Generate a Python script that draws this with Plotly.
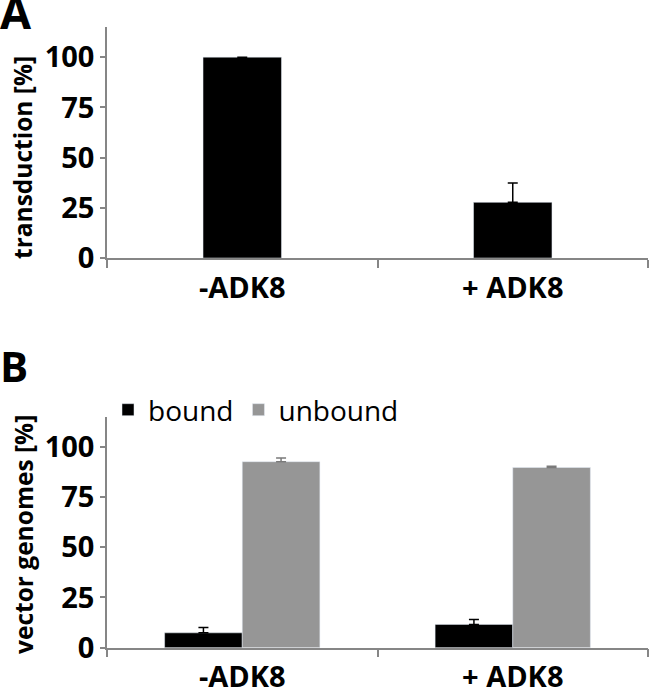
import plotly.graph_objects as go

categories = ["-ADK8", "+ ADK8"]
transduction = [100, 27.7]
transduction_err = [None, 9.6]
bound = [7.4, 11.6]
bound_err = [2.7, 2.5]
unbound = [92.6, 89.7]
unbound_err = [1.8, 0.6]
ytick_vals = [0, 25, 50, 75, 100]

FONT = "Open Sans"
AXIS_COLOR = "#868686"
H = 694

def py(pix):
    return (H - pix) / H

fig = go.Figure()

fig.add_trace(go.Bar(
    x=categories, y=transduction, marker_color="#000000", showlegend=False,
    error_y=dict(type="data", array=transduction_err, symmetric=False,
                 arrayminus=[0, 0], color="#000000", thickness=1.5, width=5),
    xaxis="x", yaxis="y", width=0.29,
))
fig.add_trace(go.Bar(
    x=categories, y=bound, name="bound", marker_color="#000000",
    error_y=dict(type="data", array=bound_err, symmetric=False,
                 arrayminus=[0, 0], color="#000000", thickness=1.5, width=5),
    xaxis="x2", yaxis="y2",
))
fig.add_trace(go.Bar(
    x=categories, y=unbound, name="unbound", marker_color="#969696",
    error_y=dict(type="data", array=unbound_err, symmetric=False,
                 arrayminus=[0, 0], color="#7a7a7a", thickness=1.5, width=5),
    xaxis="x2", yaxis="y2",
))

xcommon = dict(type="category", tickson="boundaries", ticks="outside", ticklen=8,
               tickcolor=AXIS_COLOR, tickwidth=1.5, showline=True, linecolor=AXIS_COLOR,
               linewidth=1.5, showgrid=False, zeroline=False, automargin=False,
               tickfont=dict(family=FONT, size=29, color="#000000", weight="bold"),
               domain=[107/650, 648/650], ticklabelstandoff=3)
ycommon = dict(range=[0, 115], tickvals=ytick_vals, ticks="outside", ticklen=5,
               tickcolor=AXIS_COLOR, tickwidth=1.5, showline=True, linecolor=AXIS_COLOR,
               linewidth=1.5, showgrid=False, zeroline=False, automargin=False,
               tickfont=dict(family=FONT, size=29, color="#000000", weight="bold"))

fig.update_layout(
    width=650, height=694,
    margin=dict(l=0, r=0, t=0, b=0, autoexpand=False),
    paper_bgcolor="white", plot_bgcolor="white",
    barmode="group", bargap=0.426, bargroupgap=0,
    xaxis=dict(anchor="y", **xcommon),
    yaxis=dict(anchor="x", domain=[py(258), py(27)], **ycommon),
    xaxis2=dict(anchor="y2", **xcommon),
    yaxis2=dict(anchor="x2", domain=[py(647.7), py(416.7)], **ycommon),
    legend=dict(orientation="h", x=108/650, y=py(410), xanchor="left", yanchor="middle",
                font=dict(family=FONT, size=28, color="#000000"),
                bgcolor="rgba(0,0,0,0)", itemclick=False),
    annotations=[
        dict(text="<b>A</b>", x=-2/650, y=py(12), xref="paper", yref="paper", xanchor="left",
             yanchor="middle", showarrow=False, font=dict(family=FONT, size=45, color="#000000")),
        dict(text="<b>B</b>", x=-2/650, y=py(365), xref="paper", yref="paper", xanchor="left",
             yanchor="middle", showarrow=False, font=dict(family=FONT, size=42, color="#000000")),
        dict(text="<b>transduction [%]</b>", x=22/650, y=py(158), xref="paper", yref="paper",
             xanchor="center", yanchor="middle",
             textangle=-90, showarrow=False, font=dict(family=FONT, size=24.5, color="#000000")),
        dict(text="<b>vector genomes [%]</b>", x=23/650, y=py(535), xref="paper", yref="paper",
             xanchor="center", yanchor="middle",
             textangle=-90, showarrow=False, font=dict(family=FONT, size=24.5, color="#000000")),
    ],
)

fig.write_html(
    "out.html",
    config={"responsive": False, "displayModeBar": False},
    post_script="document.body.style.margin='0';document.body.style.padding='0';",
)
